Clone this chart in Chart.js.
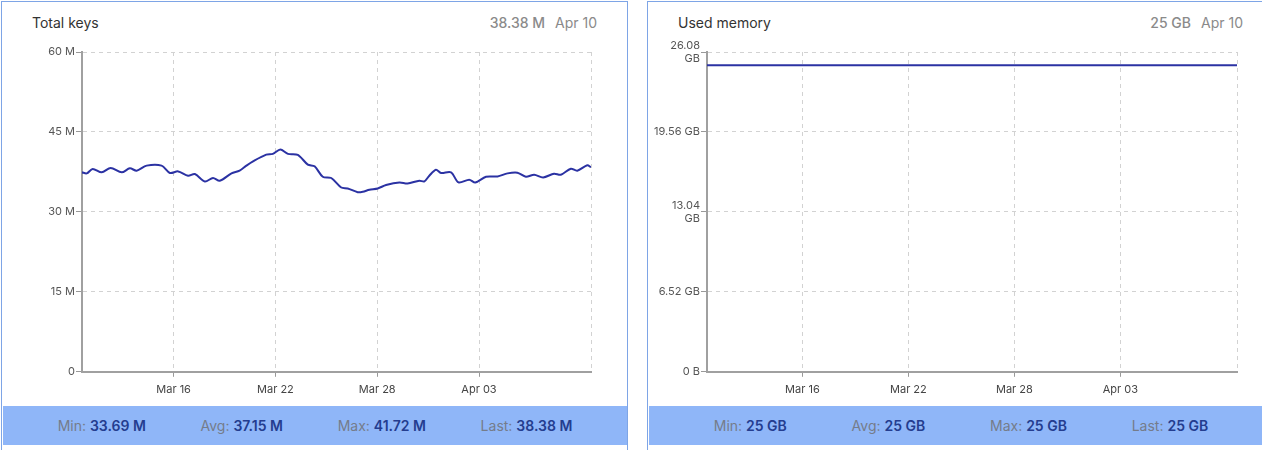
<!DOCTYPE html>
<html>
<head>
<meta charset="utf-8">
<script src="https://cdn.jsdelivr.net/npm/chart.js@4.4.1/dist/chart.umd.min.js"></script>
<style>
  body {
    margin: 0;
    width: 1262px;
    height: 450px;
    overflow: hidden;
    position: relative;
    background: #fff;
    font-family: Inter, "Noto Sans", sans-serif;
  }
  .panel {
    position: absolute;
    top: 1px;
    width: 627px;
    height: 480px;
    border: 1px solid #7ea5e6;
    box-sizing: border-box;
  }
  .head {
    position: absolute;
    left: 30px;
    right: 30px;
    top: 12px;
    display: flex;
    justify-content: space-between;
    font-size: 14px;
    line-height: 18px;
  }
  .title { color: #333; }
  .now { color: #8a8a8a; }
  .now b { font-weight: 500; margin-right: 10px; }
  .plot {
    position: absolute;
    left: 0;
    top: 34px;
    width: 625px;
    height: 368px;
  }
  .stats {
    position: absolute;
    left: 1px;
    right: 0;
    top: 404px;
    height: 39px;
    background: #8fb6f8;
    display: flex;
    justify-content: space-evenly;
    align-items: center;
    font-size: 14px;
  }
  .stats span { color: #757c8a; }
  .stats b { color: #243d8f; font-weight: 600; }
</style>
</head>
<body>
  <div class="panel" style="left: 1px">
    <div class="head">
      <span class="title">Total keys</span>
      <span class="now"><b id="keysNow"></b><span id="keysDate"></span></span>
    </div>
    <div class="plot"><canvas id="keys"></canvas></div>
    <div class="stats" id="keysStats"></div>
  </div>
  <div class="panel" style="left: 647px">
    <div class="head">
      <span class="title">Used memory</span>
      <span class="now"><b id="memNow"></b><span id="memDate"></span></span>
    </div>
    <div class="plot"><canvas id="memory"></canvas></div>
    <div class="stats" id="memStats"></div>
  </div>

<script>
// x values are days counted from Mar 10 00:00
const firstDay = 0.6
const lastDay = 30.6
const dateTickDays = [6, 12, 18, 24]
const dateTickLabels = ["Mar 16", "Mar 22", "Mar 28", "Apr 03"]
const lastDate = "Apr 10"

// total keys, in millions
const keysDays = [
  0.60, 0.88, 1.23, 1.76, 2.29, 2.94, 3.42, 3.82, 4.41, 5.29,
  5.78, 6.27, 6.85, 7.25, 7.84, 8.32, 8.72, 9.41, 9.89, 10.29,
  10.68, 11.46, 11.85, 12.29, 12.74, 13.32, 13.91, 14.31, 14.79, 15.29,
  15.88, 16.26, 16.85, 17.15, 17.54, 18.03, 18.52, 19.31, 19.79, 20.48,
  20.78, 21.07, 21.46, 21.76, 22.35, 22.79, 23.42, 23.78, 24.41, 25.09,
  25.68, 26.26, 26.76, 27.25, 27.78, 28.42, 28.82, 29.41, 29.79, 30.38,
  30.60
]
const totalKeys = [
  37.42, 37.23, 38.06, 37.42, 38.25, 37.42, 38.17, 37.74, 38.68, 38.68,
  37.30, 37.60, 36.79, 37.11, 35.72, 36.36, 35.85, 37.23, 37.74, 38.68,
  39.49, 40.75, 40.89, 41.72, 40.89, 40.70, 38.87, 38.55, 36.60, 36.36,
  34.58, 34.40, 33.69, 33.77, 34.15, 34.40, 35.04, 35.53, 35.34, 35.85,
  35.72, 36.79, 37.92, 37.30, 37.42, 35.53, 36.04, 35.53, 36.60, 36.66,
  37.23, 37.36, 36.60, 36.98, 36.47, 37.17, 36.98, 38.11, 37.74, 38.74,
  38.38
]
const keysTicks = [0, 15, 30, 45, 60]
const keysTickLabels = ["0", "15 M", "30 M", "45 M", "60 M"]
const keysNow = "38.38 M"

// used memory, in GB
const memDays = [0.6, 6, 12, 18, 24, 30.6]
const usedMemory = [25, 25, 25, 25, 25, 25]
const memTicks = [0, 6.52, 13.04, 19.56, 26.08]
const memTickLabels = ["0 B", "6.52 GB", ["13.04", "GB"], "19.56 GB", ["26.08", "GB"]]
const memNow = "25 GB"

const statNames = ["Min", "Avg", "Max", "Last"]
const keysStats = ["33.69 M", "37.15 M", "41.72 M", "38.38 M"]
const memStats = ["25 GB", "25 GB", "25 GB", "25 GB"]

function fillStats(id, values) {
  const el = document.getElementById(id)
  statNames.forEach((name, i) => {
    const item = document.createElement("div")
    item.innerHTML = "<span>" + name + ":</span> <b>" + values[i] + "</b>"
    el.appendChild(item)
  })
}

function makeChart(id, xs, ys, yMax, yTicks, yLabels, yWidth) {
  const ctx = document.getElementById(id).getContext("2d")
  return new Chart(ctx, {
    type: "line",
    data: {
      datasets: [{
        data: xs.map((x, i) => ({ x: x, y: ys[i] })),
        borderColor: "#2b32a3",
        borderWidth: 2,
        pointRadius: 0,
        tension: 0.3,
        fill: false
      }]
    },
    options: {
      responsive: true,
      maintainAspectRatio: false,
      animation: false,
      layout: { padding: { top: 16, right: 36, bottom: 2, left: 0 } },
      plugins: {
        legend: { display: false },
        tooltip: { enabled: false }
      },
      scales: {
        x: {
          type: "linear",
          min: firstDay,
          max: lastDay,
          afterBuildTicks: scale => {
            scale.ticks = dateTickDays.concat([lastDay]).map(v => ({ value: v }))
          },
          ticks: {
            autoSkip: false,
            maxRotation: 0,
            padding: 6,
            color: "#444",
            font: { family: "Inter", size: 11 },
            callback: (value, i) => dateTickLabels[i] || ""
          },
          grid: {
            color: "#d2d2d2",
            tickLength: 5,
            tickColor: c => c.index < dateTickDays.length ? "#999" : "transparent"
          },
          border: { color: "#a0a0a0", width: 2, dash: [4, 4] }
        },
        y: {
          min: 0,
          max: yMax,
          afterBuildTicks: scale => {
            scale.ticks = yTicks.map(v => ({ value: v }))
          },
          afterFit: scale => {
            scale.width = yWidth
          },
          ticks: {
            autoSkip: false,
            padding: 1,
            color: "#555",
            font: { family: "Inter", size: 11 },
            callback: (value, i) => yLabels[i]
          },
          grid: {
            color: "#d2d2d2",
            tickLength: 6,
            tickColor: "#999"
          },
          border: { color: "#a0a0a0", width: 2, dash: [4, 4] }
        }
      }
    }
  })
}

document.getElementById("keysNow").textContent = keysNow
document.getElementById("keysDate").textContent = lastDate
document.getElementById("memNow").textContent = memNow
document.getElementById("memDate").textContent = lastDate
fillStats("keysStats", keysStats)
fillStats("memStats", memStats)

makeChart("keys", keysDays, totalKeys, 60, keysTicks, keysTickLabels, 80)
makeChart("memory", memDays, usedMemory, 26.08, memTicks, memTickLabels, 59)
</script>
</body>
</html>
